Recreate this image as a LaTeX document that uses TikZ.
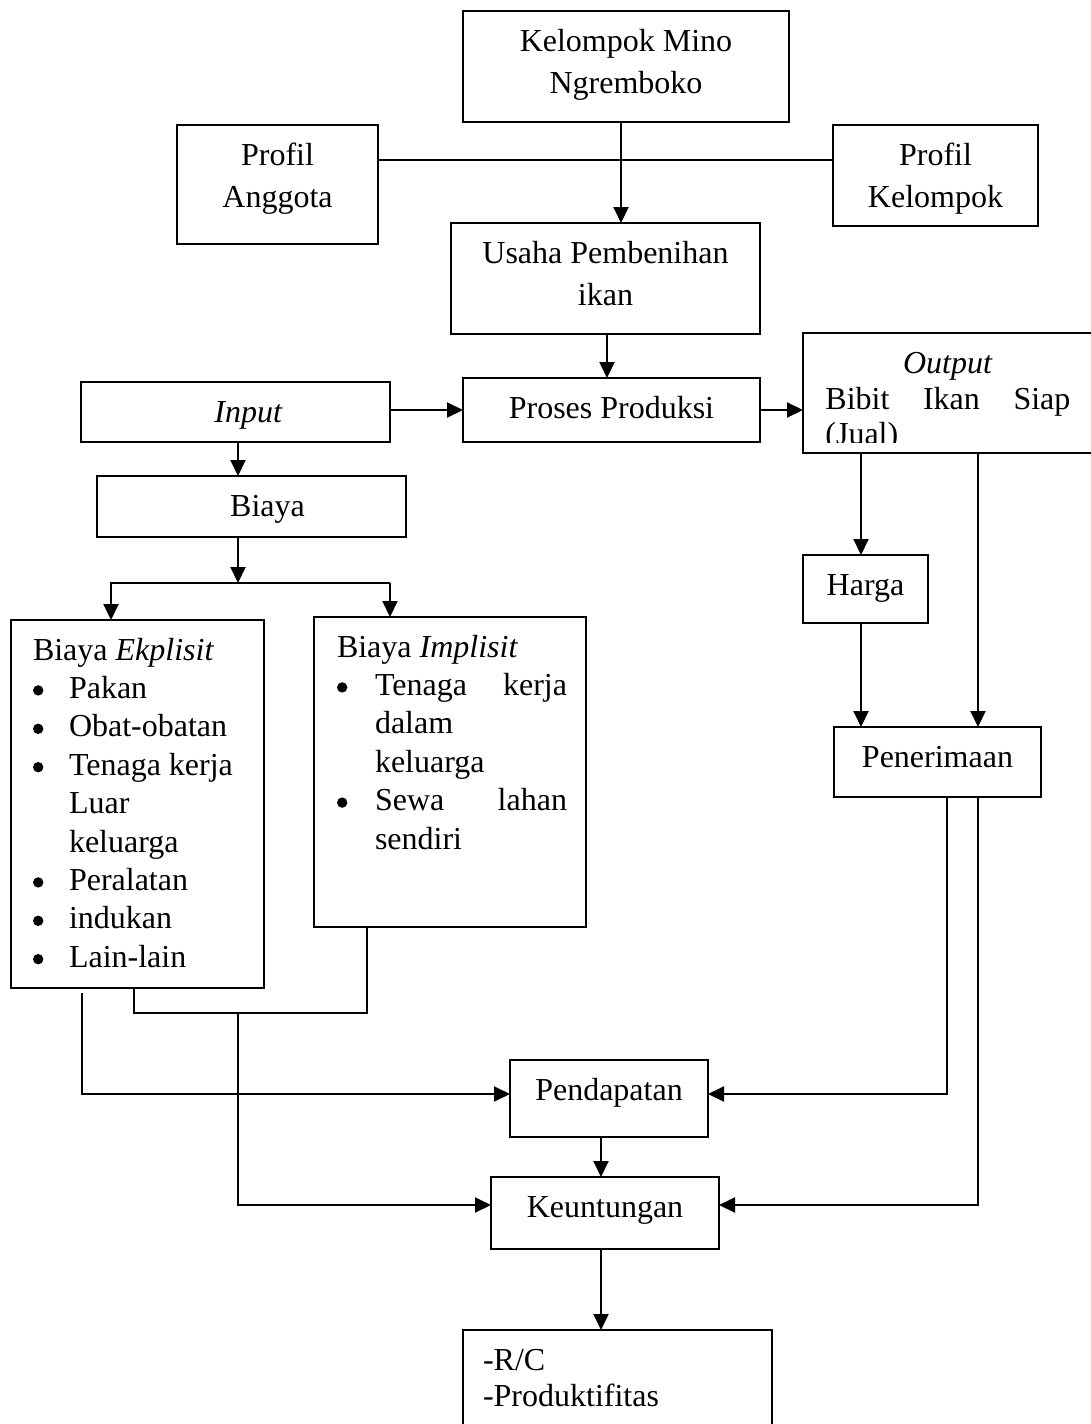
\documentclass[tikz,border=0pt]{standalone}
\usepackage{fontspec}
\setmainfont{Liberation Serif}
\usetikzlibrary{arrows.meta}
% centred box content: width px, height px, baselineskip pt, text
\newcommand\bxc[4]{\parbox[c][\dimexpr #2pt/2\relax][t]{\dimexpr #1pt/2\relax}{\centering\baselineskip=#3pt\relax\rule{0pt}{20pt}#4\par}}
% left box content: width px, height px, baselineskip pt, leftskip pt, rightskip pt, text
\newcommand\bxl[6]{\parbox[c][\dimexpr #2pt/2\relax][t]{\dimexpr #1pt/2\relax}{\leftskip=#4pt\relax\rightskip=#5pt\relax\parindent=0pt\baselineskip=#3pt\relax\rule{0pt}{20pt}#6\par}}
\newcommand\dotA{\raisebox{1.4pt}{\tikz\fill[black] (0,0) circle (2.6pt);}}
\newcommand\bulA{\makebox[18pt][l]{\dotA}}
\newcommand\indA{\hspace*{18pt}}
\newcommand\bulB{\makebox[19pt][l]{\dotA}}
\newcommand\indB{\hspace*{19pt}}
\tikzset{
  box/.style={draw, line width=1pt, inner sep=0pt, outer sep=0pt},
  ln/.style={line width=1pt},
  arr/.style={line width=1pt, -{Triangle[length=8pt,width=7.5pt]}}
}
\begin{document}
\begin{tikzpicture}[x=0.5pt, y=-0.5pt, font=\fontsize{16}{19.5}\selectfont]
\useasboundingbox (0,0) rectangle (1091,1424);
\clip (0,0) rectangle (1091,1424);
\fill[white] (0,0) rectangle (1091,1424);

% boxes
\node[box] (kel) at (626,66.5) {\bxc{326}{111}{21}{Kelompok Mino\\Ngremboko}};
\node[box] (ang) at (277.5,184.5) {\bxc{201}{119}{21}{Profil\\Anggota}};
\node[box] (pk) at (935.5,175.5) {\bxc{205}{101}{21}{Profil\\Kelompok}};
\node[box] (usaha) at (605.5,278.5) {\bxc{309}{111}{21}{Usaha Pembenihan\\ikan}};
\node[box] (proses) at (611.5,410) {\bxc{297}{64}{19.5}{Proses Produksi}};
\node[box] (input) at (235.5,412) {\bxc{309}{60}{19.5}{\hspace*{13pt}\textit{Input}}};
\node[box, minimum width=145pt, minimum height=60pt] (output) at (948,393) {};
\begin{scope}
  \clip (output.north west) rectangle ([yshift=5.5pt]output.south east);
  \node[inner sep=0pt, anchor=north west] (outtxt) at (output.north west)
    {\bxl{290}{120}{17.8}{11}{11.5}{\rule{0pt}{1pt}\hfill\textit{Output}\hfill\null\\Bibit\hfill Ikan\hfill Siap\\(Jual)}};
\end{scope}
\node[box] (biaya) at (251.5,506.5) {\bxc{309}{61}{19.5}{\hspace*{16pt}Biaya}};
\node[box] (eks) at (137.5,804) {\bxl{253}{368}{19.2}{11}{5}{Biaya \textit{Ekplisit}\\
  \bulA Pakan\\ \bulA Obat-obatan\\ \bulA Tenaga kerja\\ \indA Luar\\ \indA keluarga\\
  \bulA Peralatan\\ \bulA indukan\\ \bulA Lain-lain}};
\node[box] (imp) at (450,772) {\bxl{272}{310}{19.2}{11.5}{9.5}{Biaya \textit{Implisit}\\
  \bulB Tenaga\hfill kerja\\ \indB dalam\\ \indB keluarga\\ \bulB Sewa\hfill lahan\\ \indB sendiri}};
\node[box] (harga) at (865.5,589) {\bxc{125}{68}{19.5}{Harga}};
\node[box] (pen) at (937.5,762) {\bxc{207}{70}{19.5}{Penerimaan}};
\node[box] (pend) at (609,1098.5) {\bxc{198}{77}{19.5}{Pendapatan}};
\node[box] (keu) at (605,1213) {\bxc{228}{72}{19.5}{Keuntungan}};
\node[box] (rc) at (617.5,1390) {\bxl{309}{120}{18}{10}{5}{-R/C\\-Produktifitas}};

% guide coordinates
\coordinate (xa) at (621,0);
\coordinate (yp) at (0,160);
\coordinate (xb) at (607,0);
\coordinate (yq) at (0,410);
\coordinate (xc) at (238,0);
\coordinate (sp) at (238,583);
\coordinate (spl) at (111,583);
\coordinate (spr) at (390,583);
\coordinate (d0) at (82,993);
\coordinate (ye) at (0,1094);
\coordinate (xf) at (134,0);
\coordinate (yg) at (0,1013);
\coordinate (xh) at (367,0);
\coordinate (xi) at (238,0);
\coordinate (yj) at (0,1205);
\coordinate (xk) at (601,0);
\coordinate (xl) at (861,0);
\coordinate (xm) at (978,0);
\coordinate (xn) at (947,0);

% connectors
\draw[ln] (ang.east |- yp) -- (pk.west |- yp);
\draw[arr] (kel.south -| xa) -- (usaha.north -| xa);
\draw[arr] (usaha.south -| xb) -- (proses.north -| xb);
\draw[arr] (input.east |- yq) -- (proses.west |- yq);
\draw[arr] (proses.east |- yq) -- (output.west |- yq);
\draw[arr] (input.south -| xc) -- (biaya.north -| xc);
\draw[arr] (biaya.south -| xc) -- (sp);
\draw[arr] (spr) -- (spl) -- (eks.north -| spl);
\draw[arr] (spr) -- (imp.north -| spr);
\draw[arr] (d0) |- (pend.west |- ye);
\draw[ln] (eks.south -| xf) |- (yg -| xh) -- (imp.south -| xh);
\draw[arr] (yg -| xi) |- (keu.west |- yj);
\draw[arr] (pend.south -| xk) -- (keu.north -| xk);
\draw[arr] (keu.south -| xk) -- (rc.north -| xk);
\draw[arr] (output.south -| xl) -- (harga.north -| xl);
\draw[arr] (harga.south -| xl) -- (pen.north -| xl);
\draw[arr] (output.south -| xm) -- (pen.north -| xm);
\draw[arr] (pen.south -| xn) |- (pend.east |- ye);
\draw[arr] (pen.south -| xm) |- (keu.east |- yj);
\end{tikzpicture}
\end{document}
